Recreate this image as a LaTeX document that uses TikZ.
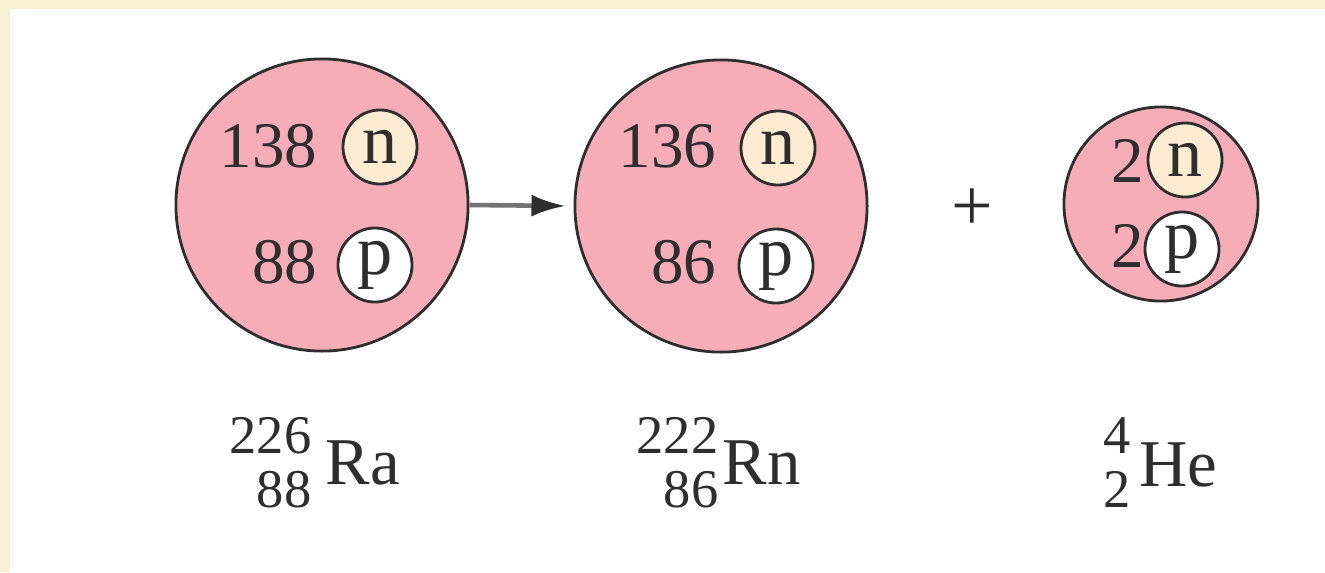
\documentclass[tikz,border=0pt]{standalone}
\usepackage{fontspec}
\setmainfont{Liberation Serif}
\usetikzlibrary{arrows.meta}
\definecolor{nucpink}{HTML}{F7ADB8}
\definecolor{neutron}{HTML}{FDEBD2}
\definecolor{framebg}{HTML}{F9F0D3}
\definecolor{ink}{HTML}{2E2E2E}
\begin{document}
\begin{tikzpicture}[x=0.01cm,y=-0.01cm,
  nucleus/.style={circle,draw=ink,line width=0.8pt,fill=nucpink,inner sep=0pt},
  particle/.style={circle,draw=ink,line width=0.8pt,inner sep=0pt,minimum size=0.74cm,
    font=\fontsize{20}{22}\selectfont,text=ink},
  neut/.style={particle,fill=neutron},
  prot/.style={particle,fill=white},
  num/.style={inner sep=0pt,font=\fontsize{18.5}{20}\selectfont,text=ink},
  elem/.style={inner sep=0pt,font=\fontsize{19}{21}\selectfont,text=ink},
  scr/.style={inner sep=0pt,font=\fontsize{15.5}{17}\selectfont,text=ink},
  arr/.style={draw=black!55,line width=1.3pt,-{Latex[length=0.34cm,width=0.22cm,color=ink]}}
]
\useasboundingbox (0,0) rectangle (1325,572);
\fill[framebg] (0,0) rectangle (1325,572);
\fill[white] (10,9) rectangle (1325,572);

% nuclei
\node[nucleus,minimum size=2.92cm] (ra) at (322,205) {};
\node[nucleus,minimum size=2.92cm] (rn) at (721,206) {};
\node[nucleus,minimum size=1.94cm] (he) at (1161,204) {};

% particles
\node[neut] (ran) at (380,147) {n};
\node[prot] (rap) at (375,265) {p};
\node[neut] (rnn) at (778,148) {n};
\node[prot] (rnp) at (776,266) {p};
\node[neut] (hen) at (1185,160) {n};
\node[prot] (hep) at (1182,249) {p};

% counts
\node[num,anchor=base east] (rancount) at (318,167) {138};
\node[num,anchor=base east] (rapcount) at (318,283) {88};
\node[num,anchor=base east] (rnncount) at (717,167) {136};
\node[num,anchor=base east] (rnpcount) at (717,283) {86};
\node[num,anchor=base east] (hencount) at (1145,182) {2};
\node[num,anchor=base east] (hepcount) at (1145,267) {2};

% arrow and plus
\draw[arr,shorten >=0.08cm] (ra.east) -- (rn.west);
\node[num,font=\fontsize{21}{23}\selectfont] (plus) at (972,210) {+};

% labels
\node[elem,anchor=base west] (ralbl) at (325,484) {Ra};
\node[scr,anchor=base east] (ramass) at (312,453) {226};
\node[scr,anchor=base east] (raz) at (312,507) {88};
\node[elem,anchor=base west] (rnlbl) at (722,484) {Rn};
\node[scr,anchor=base east] (rnmass) at (719,453) {222};
\node[scr,anchor=base east] (rnz) at (719,507) {86};
\node[elem,anchor=base west] (helbl) at (1139,486) {He};
\node[scr,anchor=base east] (hemass) at (1131,453) {4};
\node[scr,anchor=base east] (hez) at (1131,507) {2};
\end{tikzpicture}
\end{document}
